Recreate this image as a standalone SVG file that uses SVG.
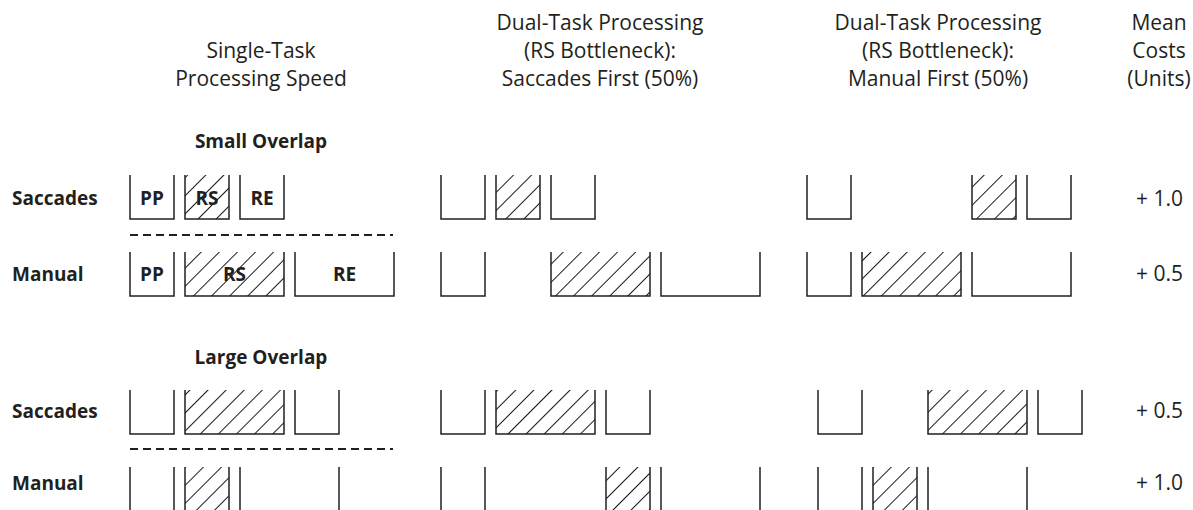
<svg xmlns="http://www.w3.org/2000/svg" width="1193" height="510" viewBox="0 0 1193 510">
<defs>
<pattern id="hatch" patternUnits="userSpaceOnUse" width="12.8" height="12.8" patternTransform="rotate(45)">
<line x1="0" y1="-1" x2="0" y2="13.8" stroke="#1a1718" stroke-width="2"/>
</pattern>
</defs>
<style>
.hd{font-family:"Open Sans","Liberation Sans",sans-serif;font-size:21px;fill:#231f20;text-anchor:middle}
.lb{font-family:"Open Sans","Liberation Sans",sans-serif;font-size:19px;font-weight:bold;fill:#231f20}
.sec{font-family:"Open Sans","Liberation Sans",sans-serif;font-size:19px;font-weight:bold;fill:#231f20;text-anchor:middle}
.bx{font-family:"Open Sans","Liberation Sans",sans-serif;font-size:19px;font-weight:bold;fill:#231f20;text-anchor:middle}
.cost{font-family:"Open Sans","Liberation Sans",sans-serif;font-size:21px;fill:#231f20}
.box{fill:none;stroke:#231f20;stroke-width:1.5}
.ht{fill:url(#hatch);stroke:none}
.dash{stroke:#231f20;stroke-width:1.8;stroke-dasharray:8 5;fill:none}
</style>
<rect width="1193" height="510" fill="#ffffff"/>

<g id="headers">
<text class="hd" x="261" y="58">Single-Task</text>
<text class="hd" x="261" y="86">Processing Speed</text>
<text class="hd" x="600" y="30">Dual-Task Processing</text>
<text class="hd" x="600" y="58">(RS Bottleneck):</text>
<text class="hd" x="600" y="86">Saccades First (50%)</text>
<text class="hd" x="938" y="30">Dual-Task Processing</text>
<text class="hd" x="938" y="58">(RS Bottleneck):</text>
<text class="hd" x="938" y="86">Manual First (50%)</text>
<text class="hd" x="1159" y="30">Mean</text>
<text class="hd" x="1159" y="58">Costs</text>
<text class="hd" x="1159" y="86">(Units)</text>
</g>

<g id="section-labels">
<text class="sec" x="261" y="148">Small Overlap</text>
<text class="sec" x="261" y="364">Large Overlap</text>
</g>

<g id="row-labels">
<text class="lb" x="12" y="205">Saccades</text>
<text class="lb" x="12" y="281">Manual</text>
<text class="lb" x="12" y="418">Saccades</text>
<text class="lb" x="12" y="490">Manual</text>
</g>

<g id="costs">
<text class="cost" x="1136" y="206">+ 1.0</text>
<text class="cost" x="1136" y="281">+ 0.5</text>
<text class="cost" x="1136" y="418">+ 0.5</text>
<text class="cost" x="1136" y="490">+ 1.0</text>
</g>

<g id="separators">
<line class="dash" x1="130" y1="235" x2="393" y2="235"/>
<line class="dash" x1="130" y1="449" x2="393" y2="449"/>
</g>

<!-- Small overlap, single-task -->
<g id="small-single-sacc-pp"><path class="box" d="M130,175 V219 H174 V175"/><text class="bx" x="152" y="205">PP</text></g>
<g id="small-single-sacc-rs"><rect class="ht" x="185" y="175" width="44" height="44"/><path class="box" d="M185,175 V219 H229 V175"/><text class="bx" x="207" y="205">RS</text></g>
<g id="small-single-sacc-re"><path class="box" d="M240,175 V219 H284 V175"/><text class="bx" x="262" y="205">RE</text></g>
<g id="small-single-man-pp"><path class="box" d="M130,252 V296 H174 V252"/><text class="bx" x="152" y="281">PP</text></g>
<g id="small-single-man-rs"><rect class="ht" x="185" y="252" width="99" height="44"/><path class="box" d="M185,252 V296 H284 V252"/><text class="bx" x="234.5" y="281">RS</text></g>
<g id="small-single-man-re"><path class="box" d="M295,252 V296 H394 V252"/><text class="bx" x="344.5" y="281">RE</text></g>

<!-- Small overlap, saccades first -->
<g id="small-sf-sacc-pp"><path class="box" d="M441,175 V219 H485 V175"/></g>
<g id="small-sf-sacc-rs"><rect class="ht" x="496" y="175" width="44" height="44"/><path class="box" d="M496,175 V219 H540 V175"/></g>
<g id="small-sf-sacc-re"><path class="box" d="M551,175 V219 H595 V175"/></g>
<g id="small-sf-man-pp"><path class="box" d="M441,252 V296 H485 V252"/></g>
<g id="small-sf-man-rs"><rect class="ht" x="551" y="252" width="99" height="44"/><path class="box" d="M551,252 V296 H650 V252"/></g>
<g id="small-sf-man-re"><path class="box" d="M661,252 V296 H760 V252"/></g>

<!-- Small overlap, manual first -->
<g id="small-mf-sacc-pp"><path class="box" d="M807,175 V219 H851 V175"/></g>
<g id="small-mf-sacc-rs"><rect class="ht" x="972" y="175" width="44" height="44"/><path class="box" d="M972,175 V219 H1016 V175"/></g>
<g id="small-mf-sacc-re"><path class="box" d="M1027,175 V219 H1071 V175"/></g>
<g id="small-mf-man-pp"><path class="box" d="M807,252 V296 H851 V252"/></g>
<g id="small-mf-man-rs"><rect class="ht" x="862" y="252" width="99" height="44"/><path class="box" d="M862,252 V296 H961 V252"/></g>
<g id="small-mf-man-re"><path class="box" d="M972,252 V296 H1071 V252"/></g>

<!-- Large overlap, single-task -->
<g id="large-single-sacc-pp"><path class="box" d="M130,390 V434 H174 V390"/></g>
<g id="large-single-sacc-rs"><rect class="ht" x="185" y="390" width="99" height="44"/><path class="box" d="M185,390 V434 H284 V390"/></g>
<g id="large-single-sacc-re"><path class="box" d="M295,390 V434 H339 V390"/></g>
<g id="large-single-man-pp"><path class="box" d="M130,467 V511 H174 V467"/></g>
<g id="large-single-man-rs"><rect class="ht" x="185" y="467" width="44" height="44"/><path class="box" d="M185,467 V511 H229 V467"/></g>
<g id="large-single-man-re"><path class="box" d="M240,467 V511 H339 V467"/></g>

<!-- Large overlap, saccades first -->
<g id="large-sf-sacc-pp"><path class="box" d="M441,390 V434 H485 V390"/></g>
<g id="large-sf-sacc-rs"><rect class="ht" x="496" y="390" width="99" height="44"/><path class="box" d="M496,390 V434 H595 V390"/></g>
<g id="large-sf-sacc-re"><path class="box" d="M606,390 V434 H650 V390"/></g>
<g id="large-sf-man-pp"><path class="box" d="M441,467 V511 H485 V467"/></g>
<g id="large-sf-man-rs"><rect class="ht" x="606" y="467" width="44" height="44"/><path class="box" d="M606,467 V511 H650 V467"/></g>
<g id="large-sf-man-re"><path class="box" d="M661,467 V511 H760 V467"/></g>

<!-- Large overlap, manual first -->
<g id="large-mf-sacc-pp"><path class="box" d="M818,390 V434 H862 V390"/></g>
<g id="large-mf-sacc-rs"><rect class="ht" x="928" y="390" width="99" height="44"/><path class="box" d="M928,390 V434 H1027 V390"/></g>
<g id="large-mf-sacc-re"><path class="box" d="M1038,390 V434 H1082 V390"/></g>
<g id="large-mf-man-pp"><path class="box" d="M818,467 V511 H862 V467"/></g>
<g id="large-mf-man-rs"><rect class="ht" x="873" y="467" width="44" height="44"/><path class="box" d="M873,467 V511 H917 V467"/></g>
<g id="large-mf-man-re"><path class="box" d="M928,467 V511 H1027 V467"/></g>

<g id="connectors"></g>
</svg>
